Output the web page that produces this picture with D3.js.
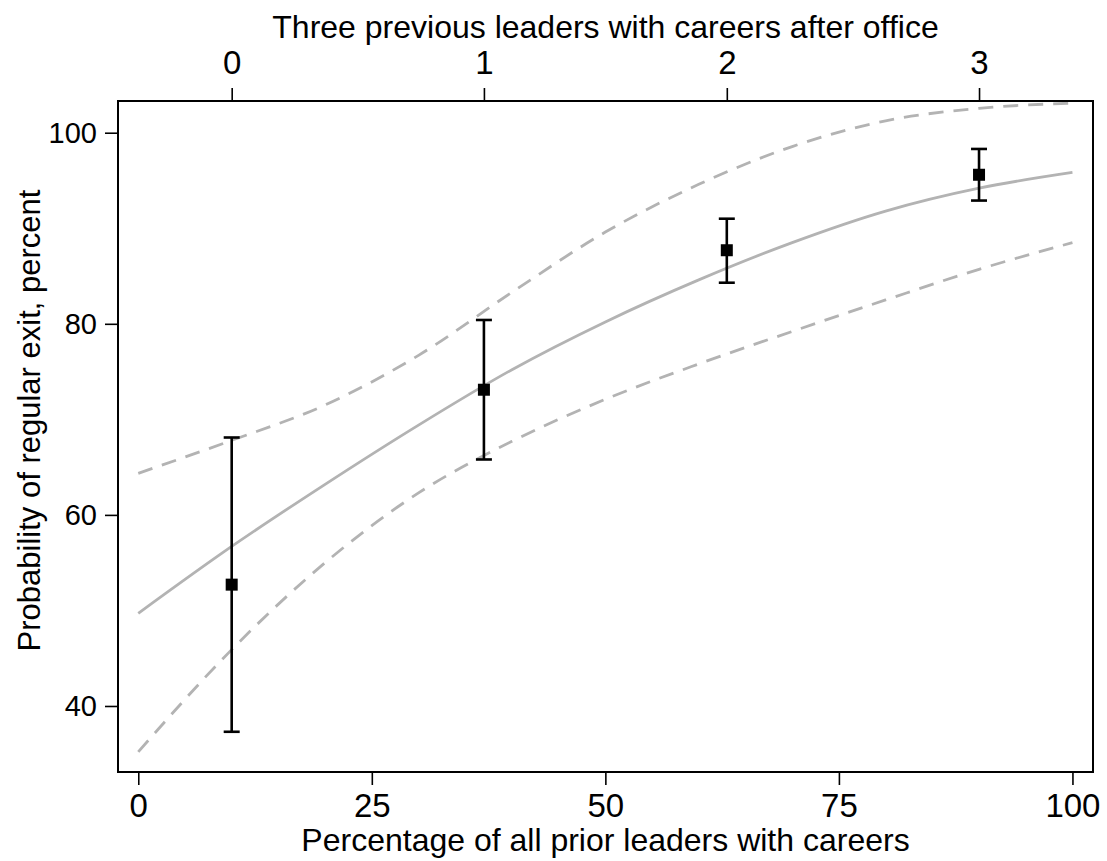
<!DOCTYPE html>
<html>
<head>
<meta charset="utf-8">
<script src="https://cdn.jsdelivr.net/npm/d3@7"></script>
<style>
  html, body { margin: 0; padding: 0; background: #fff; }
  svg { display: block; font-family: "Liberation Sans", Arial, Helvetica, sans-serif; }
</style>
</head>
<body>
<svg id="chart" width="1107" height="861"></svg>
<script>
// Fitted probability curve and its 95% band (x = percentage of prior leaders with careers)
const curveX     = [0, 10, 20, 30, 40, 50, 60, 70, 80, 90, 100];
const fitValues  = [49.7, 56.7, 63.2, 69.4, 75.2, 80.2, 84.6, 88.5, 91.8, 94.2, 95.85];
const upperBand  = [64.35, 67.8, 71.5, 76.7, 83.3, 89.6, 94.6, 98.55, 101.25, 102.55, 103.1];
const lowerBand  = [35.2, 45.9, 55.0, 62.3, 67.7, 72.1, 75.8, 79.2, 82.5, 85.7, 88.5];

// Observed estimates for 0-3 previous leaders with careers after office
const pointX     = [10, 37, 63, 90];
const pointEst   = [52.7, 73.1, 87.7, 95.6];
const pointLow   = [37.3, 65.8, 84.3, 92.9];
const pointHigh  = [68.1, 80.4, 91.0, 98.3];

// Tick labels
const bottomTicks = [0, 25, 50, 75, 100];
const leftTicks   = [40, 60, 80, 100];
const topTickLabels = ["0", "1", "2", "3"];

const svg = d3.select("#chart");
const plot = { left: 118, right: 1093, top: 101, bottom: 772 };

const x = d3.scaleLinear().domain([-2.17, 102.2]).range([plot.left, plot.right]);
const y = d3.scaleLinear().domain([33.09, 103.32]).range([plot.bottom, plot.top]);

const clipId = "plot-clip";
svg.append("clipPath").attr("id", clipId)
  .append("rect")
  .attr("x", plot.left).attr("y", plot.top)
  .attr("width", plot.right - plot.left).attr("height", plot.bottom - plot.top);

const g = svg.append("g").attr("clip-path", `url(#${clipId})`);

const seriesOf = vals => curveX.map((cx, i) => ({ x: cx, y: vals[i] }));
const line = d3.line().x(d => x(d.x)).y(d => y(d.y)).curve(d3.curveMonotoneX);

// Confidence band (dashed) and fitted line (solid)
[upperBand, lowerBand].forEach(vals => {
  g.append("path")
    .attr("d", line(seriesOf(vals)))
    .attr("fill", "none")
    .attr("stroke", "#b3b3b3")
    .attr("stroke-width", 2.8)
    .attr("stroke-dasharray", "15,10");
});
g.append("path")
  .attr("d", line(seriesOf(fitValues)))
  .attr("fill", "none")
  .attr("stroke", "#b3b3b3")
  .attr("stroke-width", 2.8);

// Error bars with caps
const points = pointX.map((px, i) => ({ x: px, est: pointEst[i], lo: pointLow[i], hi: pointHigh[i] }));
const capW = 8;
const bars = svg.append("g").attr("stroke", "#000").attr("stroke-width", 2.6);
points.forEach(p => {
  bars.append("line").attr("x1", x(p.x)).attr("x2", x(p.x)).attr("y1", y(p.lo)).attr("y2", y(p.hi));
  bars.append("line").attr("x1", x(p.x) - capW).attr("x2", x(p.x) + capW).attr("y1", y(p.lo)).attr("y2", y(p.lo));
  bars.append("line").attr("x1", x(p.x) - capW).attr("x2", x(p.x) + capW).attr("y1", y(p.hi)).attr("y2", y(p.hi));
});
const sq = 12;
svg.append("g").selectAll("rect").data(points).join("rect")
  .attr("x", d => x(d.x) - sq / 2)
  .attr("y", d => y(d.est) - sq / 2)
  .attr("width", sq).attr("height", sq)
  .attr("fill", "#000");

// Frame
svg.append("rect")
  .attr("x", plot.left).attr("y", plot.top)
  .attr("width", plot.right - plot.left).attr("height", plot.bottom - plot.top)
  .attr("fill", "none").attr("stroke", "#000").attr("stroke-width", 2);

// Axes
function styleAxis(sel, fontSize) {
  sel.select(".domain").remove();
  sel.selectAll(".tick line").attr("stroke", "#000").attr("stroke-width", 1.6);
  sel.selectAll(".tick text").attr("fill", "#000").attr("font-size", fontSize)
    .attr("font-family", "Liberation Sans, Arial, sans-serif");
}

svg.append("g")
  .attr("transform", `translate(0,${plot.bottom + 1})`)
  .call(d3.axisBottom(x).tickValues(bottomTicks).tickSize(12).tickPadding(9).tickSizeOuter(0))
  .call(s => styleAxis(s, 33));

svg.append("g")
  .attr("transform", `translate(${plot.left - 1},0)`)
  .call(d3.axisLeft(y).tickValues(leftTicks).tickSize(12).tickPadding(8).tickSizeOuter(0))
  .call(s => styleAxis(s, 29));

svg.append("g")
  .attr("transform", `translate(0,${plot.top - 1})`)
  .call(d3.axisTop(x).tickValues(pointX).tickFormat((d, i) => topTickLabels[i])
    .tickSize(12).tickPadding(14).tickSizeOuter(0))
  .call(s => styleAxis(s, 33));

// Axis titles
const midX = (plot.left + plot.right) / 2;
svg.append("text")
  .attr("x", midX).attr("y", 38)
  .attr("text-anchor", "middle").attr("font-size", 32)
  .text("Three previous leaders with careers after office");

svg.append("text")
  .attr("x", midX).attr("y", 851)
  .attr("text-anchor", "middle").attr("font-size", 32)
  .text("Percentage of all prior leaders with careers");

svg.append("text")
  .attr("transform", `translate(40,${(plot.top + plot.bottom) / 2 - 16}) rotate(-90)`)
  .attr("text-anchor", "middle").attr("font-size", 31)
  .text("Probability of regular exit, percent");
</script>
</body>
</html>
